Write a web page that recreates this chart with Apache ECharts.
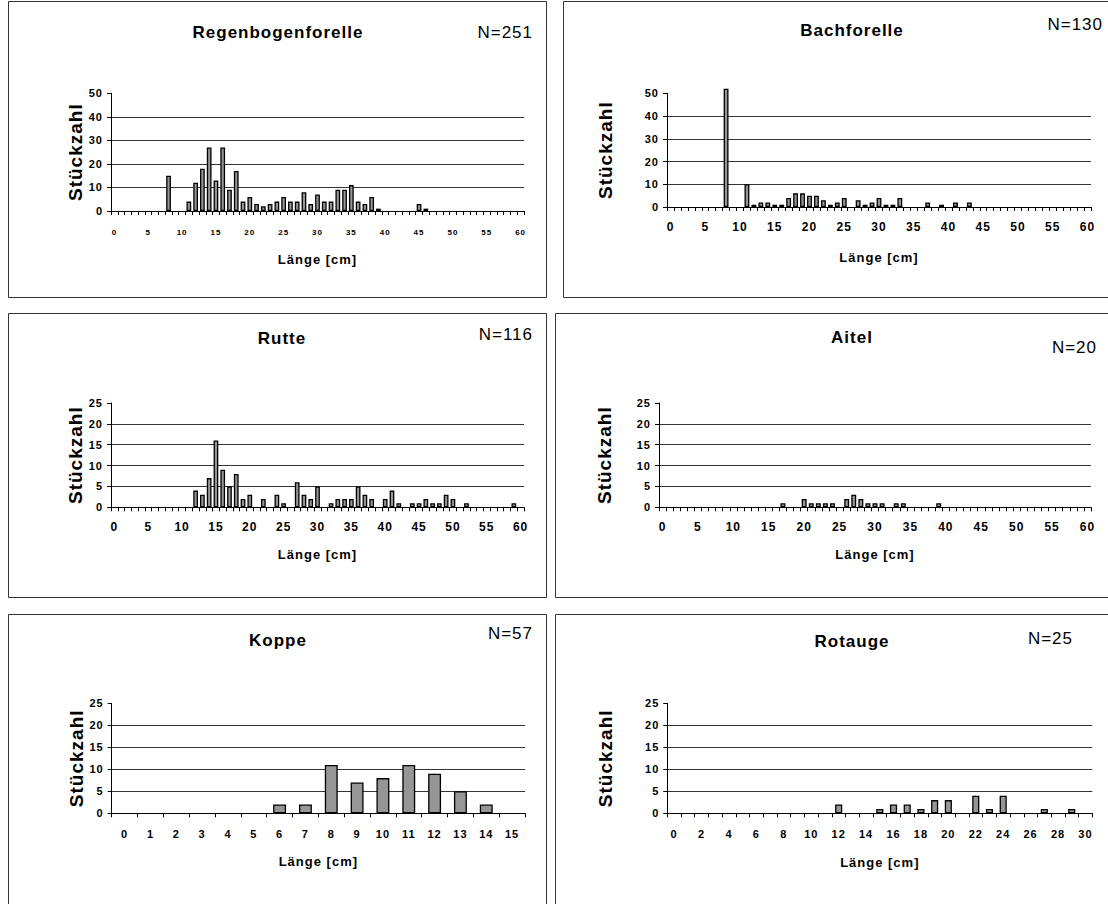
<!DOCTYPE html>
<html><head><meta charset="utf-8">
<script src="https://cdn.jsdelivr.net/npm/echarts@6.0.0/dist/echarts.min.js"></script>
<style>html,body{margin:0;padding:0;background:#fff}#c{width:1108px;height:904px}
#c svg text{letter-spacing:1px}</style>
</head><body><div id="c"></div>
<script>
// ---- categories (Länge in cm) ----
const lengths0to60 = ['0','1','2','3','4','5','6','7','8','9','10','11','12','13','14','15','16','17','18','19','20',
  '21','22','23','24','25','26','27','28','29','30','31','32','33','34','35','36','37','38','39','40',
  '41','42','43','44','45','46','47','48','49','50','51','52','53','54','55','56','57','58','59','60'];
const lengths0to15 = ['0','1','2','3','4','5','6','7','8','9','10','11','12','13','14','15'];
const lengths0to30 = ['0','1','2','3','4','5','6','7','8','9','10','11','12','13','14','15','16','17','18','19','20',
  '21','22','23','24','25','26','27','28','29','30'];

// ---- counts (Stückzahl) ----
const regenbogenforelle = [0,0,0,0,0,0,0,0,15,0,0,4,12,18,27,13,27,9,17,4,6,3,2,3,4,6,4,4,8,3,7,4,4,9,9,11,4,3,6,1,
  0,0,0,0,0,3,1,0,0,0,0,0,0,0,0,0,0,0,0,0,0];
const bachforelle = [0,0,0,0,0,0,0,0,52,0,0,10,1,2,2,1,1,4,6,6,5,5,3,1,2,4,0,3,1,2,4,1,1,4,0,0,0,2,0,1,
  0,2,0,2,0,0,0,0,0,0,0,0,0,0,0,0,0,0,0,0,0];
const rutte = [0,0,0,0,0,0,0,0,0,0,0,0,4,3,7,16,9,5,8,2,3,0,2,0,3,1,0,6,3,2,5,0,1,2,2,2,5,3,2,0,
  2,4,1,0,1,1,2,1,1,3,2,0,1,0,0,0,0,0,0,1,0];
const aitel = [0,0,0,0,0,0,0,0,0,0,0,0,0,0,0,0,0,1,0,0,2,1,1,1,1,0,2,3,2,1,1,1,0,1,1,0,0,0,0,1,
  0,0,0,0,0,0,0,0,0,0,0,0,0,0,0,0,0,0,0,0,0];
const koppe = [0,0,0,0,0,0,2,2,11,7,8,11,9,5,2,0];
const rotauge = [0,0,0,0,0,0,0,0,0,0,0,0,2,0,0,1,2,2,1,3,3,0,4,1,4,0,0,1,0,1,0];

// ---- texts ----
const titles = ['Regenbogenforelle','Bachforelle','Rutte','Aitel','Koppe','Rotauge'];
const nLabels = ['N=251','N=130','N=116','N=20','N=57','N=25'];
const yName = 'Stückzahl';
const xName = 'Länge [cm]';

// ---- layout (positions / styles only) ----
const layout = [
  {cats:lengths0to60, data:regenbogenforelle, yMax:50, yInt:10, lblInt:4,
   grid:{left:111,top:93.3,width:413,height:117.7}, box:[8.5,1.5,538,296],
   title:[278,32], n:[533,32], xFont:8, xMargin:17, xNameGap:42, yNameGap:26, barW:'70%'},
  {cats:lengths0to60, data:bachforelle, yMax:50, yInt:10, lblInt:4,
   grid:{left:667,top:93.3,width:424,height:113.7}, box:[563.5,1.5,560,296],
   title:[852,30], n:[1103,24], xFont:12, xMargin:14, xNameGap:44, yNameGap:52, barW:'70%'},
  {cats:lengths0to60, data:rutte, yMax:25, yInt:5, lblInt:4,
   grid:{left:111,top:403,width:413,height:104.3}, box:[8.5,313.5,538,284],
   title:[282,338], n:[533,334], xFont:12, xMargin:14, xNameGap:41, yNameGap:26, barW:'70%'},
  {cats:lengths0to60, data:aitel, yMax:25, yInt:5, lblInt:4,
   grid:{left:659,top:403,width:432,height:104.3}, box:[555.5,313.5,570,284],
   title:[852,337], n:[1097,347], xFont:12, xMargin:14, xNameGap:41, yNameGap:45, barW:'70%'},
  {cats:lengths0to15, data:koppe, yMax:25, yInt:5, lblInt:0,
   grid:{left:111.7,top:703.3,width:413.3,height:110}, box:[8.5,614.5,538,300],
   title:[278,640], n:[533,633], xFont:11, xMargin:15, xNameGap:42, yNameGap:26, barW:'50%'},
  {cats:lengths0to30, data:rotauge, yMax:25, yInt:5, lblInt:1,
   grid:{left:667.3,top:703.3,width:425,height:110}, box:[555.5,614.5,570,300],
   title:[852,641], n:[1073,638], xFont:11, xMargin:15, xNameGap:43, yNameGap:52, barW:'52%'}
];

const FONT = 'Liberation Sans, Arial, sans-serif';
const grids = [], xAxes = [], yAxes = [], series = [], graphics = [];

layout.forEach((p, i) => {
  grids.push(Object.assign({containLabel:false}, p.grid));
  xAxes.push({
    type:'category', gridIndex:i, data:p.cats, boundaryGap:true,
    name:xName, nameLocation:'middle', nameGap:p.xNameGap,
    nameTextStyle:{fontFamily:FONT, fontWeight:'bold', fontSize:13, color:'#000'},
    axisLine:{lineStyle:{color:'#000', width:1}},
    axisTick:{show:true, interval:0, length:4, lineStyle:{color:'#000'}},
    axisLabel:{interval:p.lblInt, fontFamily:FONT, fontWeight:'bold', fontSize:p.xFont, color:'#000', margin:p.xMargin},
    splitLine:{show:false}
  });
  yAxes.push({
    type:'value', gridIndex:i, min:0, max:p.yMax, interval:p.yInt,
    name:yName, nameLocation:'middle', nameRotate:90, nameGap:p.yNameGap,
    nameTextStyle:{fontFamily:FONT, fontWeight:'bold', fontSize:19, color:'#000'},
    axisLine:{show:true, lineStyle:{color:'#000', width:1}},
    axisTick:{show:true, length:4, lineStyle:{color:'#000'}},
    axisLabel:{fontFamily:FONT, fontWeight:'bold', fontSize:11, color:'#000', margin:8},
    splitLine:{show:true, showMaxLine:false, lineStyle:{color:'#333', width:1}}
  });
  series.push({
    type:'bar', xAxisIndex:i, yAxisIndex:i, barWidth:p.barW, clip:false,
    data:p.data.map(v => v === 0 ? '-' : v),
    itemStyle:{color:'#969696', borderColor:'#000', borderWidth:1.3},
    emphasis:{disabled:true}, silent:true
  });
  graphics.push({type:'rect', shape:{x:p.box[0], y:p.box[1], width:p.box[2], height:p.box[3]},
    style:{fill:'none', stroke:'#333', lineWidth:1}, silent:true, z:-1});
  graphics.push({type:'text', x:p.title[0], y:p.title[1],
    style:{text:titles[i], font:'bold 17px ' + FONT, fill:'#000', textAlign:'center', textVerticalAlign:'middle'}});
  graphics.push({type:'text', x:p.n[0], y:p.n[1],
    style:{text:nLabels[i], font:'17px ' + FONT, fill:'#000', textAlign:'right', textVerticalAlign:'middle'}});
});

const chart = echarts.init(document.getElementById('c'), null, {renderer:'svg'});
chart.setOption({
  animation:false,
  backgroundColor:'#fff',
  grid:grids, xAxis:xAxes, yAxis:yAxes, series:series,
  graphic:graphics
});
</script>
</body></html>
